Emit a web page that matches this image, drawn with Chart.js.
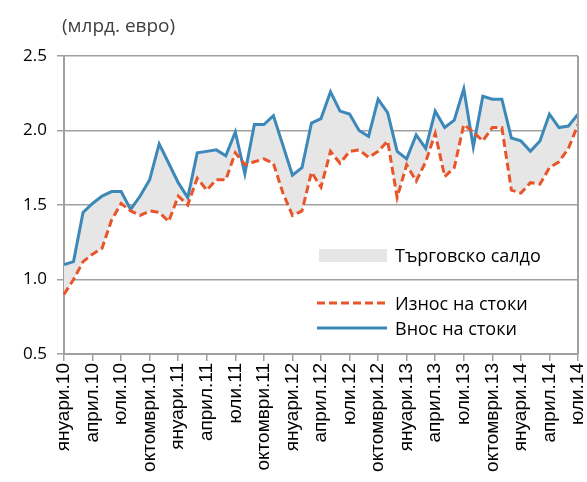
<!DOCTYPE html>
<html>
<head>
<meta charset="utf-8">
<script src="https://cdn.jsdelivr.net/npm/chart.js@4.4.0/dist/chart.umd.min.js"></script>
<style>
    html, body { margin: 0; padding: 0; background: #fff; overflow: hidden; }
    #wrap { position: relative; width: 587px; height: 482px; }
    .txt { position: absolute; font-family: 'Open Sans', sans-serif; color: #000; white-space: nowrap; }
    .unit { left: 62px; top: 11px; font-size: 19px; line-height: 28px; color: #404040; }
    .leg { left: 395px; font-size: 18px; line-height: 24px; }
    .swatch { position: absolute; }
</style>
</head>
<body>
<div id="wrap">
    <canvas id="tradeChart"></canvas>
    <div class="txt unit">(млрд. евро)</div>
    <div class="swatch" style="left:319px; top:249px; width:68px; height:13px; background:#e6e6e6;"></div>
    <div class="txt leg" style="top:243px;">Търговско салдо</div>
    <svg class="swatch" style="left:316px; top:298px;" width="72" height="10">
        <line x1="1" y1="5" x2="71" y2="5" stroke="#e8552a" stroke-width="3" stroke-dasharray="8,4"/>
    </svg>
    <div class="txt leg" style="top:291px;">Износ на стоки</div>
    <svg class="swatch" style="left:316px; top:323px;" width="72" height="10">
        <line x1="1" y1="5" x2="71" y2="5" stroke="#3b88b9" stroke-width="3"/>
    </svg>
    <div class="txt leg" style="top:316px;">Внос на стоки</div>
</div>
<script>
// Month names and years for the category axis (Jan 2010 - Jul 2014)
const monthNames = ['януари', 'февруари', 'март', 'април', 'май', 'юни',
    'юли', 'август', 'септември', 'октомври', 'ноември', 'декември'];
const years = ['10', '11', '12', '13', '14'];
const lastMonthIndex = 6; // юли.14

const labels = [];
years.forEach((y, yi) => {
    monthNames.forEach((m, mi) => {
        if (yi === years.length - 1 && mi > lastMonthIndex) return;
        labels.push(m + '.' + y);
    });
});

// Износ на стоки (exports), млрд. евро
const exportsData = [
    0.90, 1.00, 1.12, 1.17, 1.21, 1.40, 1.51, 1.46, 1.43, 1.46, 1.45, 1.39,
    1.56, 1.50, 1.68, 1.60, 1.67, 1.67, 1.85, 1.77, 1.79, 1.81, 1.78, 1.58,
    1.43, 1.46, 1.72, 1.62, 1.86, 1.78, 1.86, 1.87, 1.82, 1.86, 1.93, 1.55,
    1.77, 1.66, 1.79, 1.98, 1.69, 1.75, 2.04, 1.99, 1.93, 2.02, 2.02, 1.60,
    1.58, 1.65, 1.64, 1.75, 1.79, 1.88, 2.04
];

// Внос на стоки (imports), млрд. евро
const importsData = [
    1.10, 1.12, 1.45, 1.51, 1.56, 1.59, 1.59, 1.47, 1.56, 1.67, 1.91, 1.78,
    1.65, 1.55, 1.85, 1.86, 1.87, 1.83, 1.99, 1.71, 2.04, 2.04, 2.10, 1.90,
    1.70, 1.75, 2.05, 2.08, 2.26, 2.13, 2.11, 2.00, 1.96, 2.21, 2.12, 1.86,
    1.81, 1.97, 1.88, 2.13, 2.02, 2.07, 2.28, 1.89, 2.23, 2.21, 2.21, 1.95,
    1.93, 1.86, 1.93, 2.11, 2.02, 2.03, 2.11
];

const yMin = 0.5;
const yMax = 2.5;
const yStep = 0.5;

const axisGray = '#a0a0a0';

// right border of the plot area
const rightBorder = {
    id: 'rightBorder',
    afterDraw(chart) {
        const { ctx, chartArea } = chart;
        ctx.save();
        ctx.strokeStyle = axisGray;
        ctx.lineWidth = 2;
        ctx.beginPath();
        ctx.moveTo(chartArea.right, chartArea.top);
        ctx.lineTo(chartArea.right, chartArea.bottom);
        ctx.stroke();
        ctx.restore();
    }
};

const ctx = document.getElementById('tradeChart').getContext('2d');
const tradeChart = new Chart(ctx, {
    type: 'line',
    data: {
        labels: labels,
        datasets: [{
            label: 'Износ на стоки',
            data: exportsData,
            borderColor: '#e8552a',
            borderWidth: 3,
            borderDash: [8, 4],
            pointRadius: 0,
            tension: 0,
            fill: false
        }, {
            label: 'Внос на стоки',
            data: importsData,
            borderColor: '#3b88b9',
            borderWidth: 3,
            pointRadius: 0,
            tension: 0,
            fill: { target: 0 },
            backgroundColor: '#e6e6e6'
        }]
    },
    options: {
        responsive: true,
        maintainAspectRatio: false,
        animation: false,
        layout: {
            padding: { top: 56, right: 9, left: 0, bottom: 0 }
        },
        plugins: {
            legend: { display: false },
            tooltip: { enabled: false }
        },
        scales: {
            x: {
                afterFit: function (scale) {
                    scale.height = 128;
                    // let the last rotated label run past the edge, like the original
                    scale.paddingLeft = 0;
                    scale.paddingRight = 0;
                },
                grid: {
                    drawOnChartArea: false,
                    drawTicks: true,
                    tickLength: 7,
                    color: axisGray,
                    lineWidth: 1.5
                },
                border: { color: axisGray, width: 2 },
                ticks: {
                    autoSkip: false,
                    minRotation: 90,
                    maxRotation: 90,
                    padding: 2,
                    color: '#000',
                    font: { family: "'Liberation Sans', Arial, sans-serif", size: 19 },
                    callback: function (value, index) {
                        return index % 3 === 0 ? labels[index] : null;
                    }
                }
            },
            y: {
                min: yMin,
                max: yMax,
                afterFit: function (scale) {
                    scale.width = 64;
                },
                grid: {
                    color: axisGray,
                    lineWidth: 1.5,
                    tickLength: 7
                },
                border: { color: axisGray, width: 2 },
                ticks: {
                    stepSize: yStep,
                    padding: 10,
                    color: '#000',
                    font: { family: "'Open Sans', sans-serif", size: 17 },
                    callback: function (value) {
                        return value.toFixed(1);
                    }
                }
            }
        }
    },
    plugins: [rightBorder]
});
</script>
</body>
</html>
